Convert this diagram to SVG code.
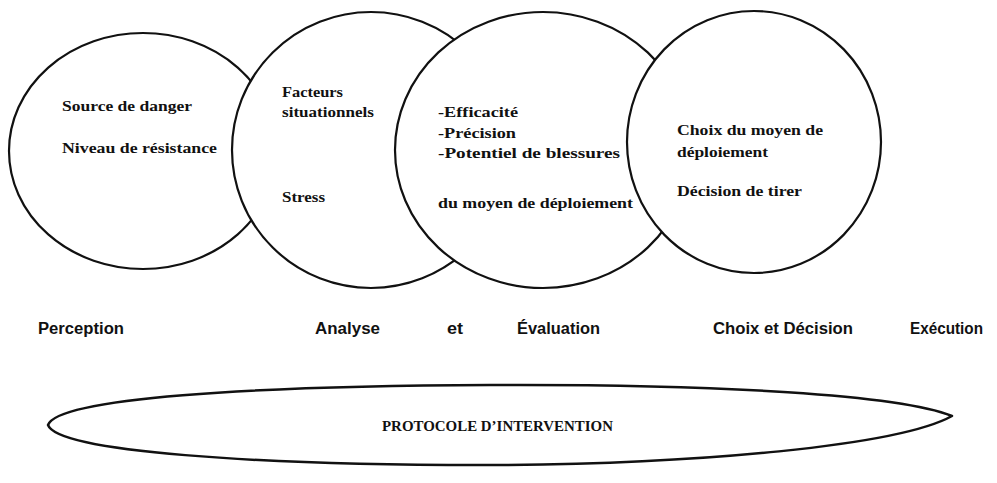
<svg xmlns="http://www.w3.org/2000/svg" width="997" height="483" viewBox="0 0 997 483">
<style>
.c{fill:#fff;stroke:#111;stroke-width:2.2}
.t{font-family:"Liberation Serif","Times New Roman",serif;font-weight:bold;font-size:15.5px;fill:#111}
.s{font-family:"Liberation Sans",Arial,sans-serif;font-weight:bold;font-size:16px;fill:#111}
.p{font-family:"Liberation Serif","Times New Roman",serif;font-size:15px;fill:#111;font-weight:bold}
</style>
<rect width="997" height="483" fill="#fff"/>
<g id="connectors"/>
<g id="perception">
<ellipse class="c" cx="143" cy="151" rx="134" ry="118"/>
<text class="t" x="62" y="111" textLength="130" lengthAdjust="spacingAndGlyphs">Source de danger</text>
<text class="t" x="62" y="153" textLength="155" lengthAdjust="spacingAndGlyphs">Niveau de résistance</text>
</g>
<g id="analyse">
<ellipse class="c" cx="371" cy="150" rx="139" ry="138"/>
<text class="t" x="282" y="97" textLength="61" lengthAdjust="spacingAndGlyphs">Facteurs</text>
<text class="t" x="282" y="117" textLength="92" lengthAdjust="spacingAndGlyphs">situationnels</text>
<text class="t" x="282" y="202" textLength="43" lengthAdjust="spacingAndGlyphs">Stress</text>
</g>
<g id="evaluation">
<ellipse class="c" cx="543" cy="150" rx="148" ry="138"/>
<text class="t" x="438" y="117" textLength="80" lengthAdjust="spacingAndGlyphs">-Efficacité</text>
<text class="t" x="438" y="138" textLength="78" lengthAdjust="spacingAndGlyphs">-Précision</text>
<text class="t" x="438" y="158" textLength="182" lengthAdjust="spacingAndGlyphs">-Potentiel de blessures</text>
<text class="t" x="438" y="208" textLength="195" lengthAdjust="spacingAndGlyphs">du moyen de déploiement</text>
</g>
<g id="decision">
<ellipse class="c" cx="754" cy="142" rx="127" ry="131"/>
<text class="t" x="677" y="135" textLength="146" lengthAdjust="spacingAndGlyphs">Choix du moyen de</text>
<text class="t" x="677" y="157" textLength="91" lengthAdjust="spacingAndGlyphs">déploiement</text>
<text class="t" x="677" y="196" textLength="125" lengthAdjust="spacingAndGlyphs">Décision de tirer</text>
</g>
<g id="stages">
<text class="s" x="38" y="334" textLength="86" lengthAdjust="spacingAndGlyphs">Perception</text>
<text class="s" x="315" y="334" textLength="65" lengthAdjust="spacingAndGlyphs">Analyse</text>
<text class="s" x="447" y="334" textLength="16" lengthAdjust="spacingAndGlyphs">et</text>
<text class="s" x="517" y="334" textLength="83" lengthAdjust="spacingAndGlyphs">Évaluation</text>
<text class="s" x="713" y="334" textLength="140" lengthAdjust="spacingAndGlyphs">Choix et Décision</text>
<text class="s" x="910" y="334" textLength="73" lengthAdjust="spacingAndGlyphs">Exécution</text>
</g>
<g id="protocole">
<path d="M48,425 C58,398 250,386 490,385 C720,384 900,395 952,416 C900,445 700,465 480,465 C260,465 58,452 48,425 Z" fill="#fff" stroke="#111" stroke-width="2.5" stroke-linejoin="round"/>
<text class="p" x="382" y="431" textLength="231" lengthAdjust="spacingAndGlyphs">PROTOCOLE D’INTERVENTION</text>
</g>
</svg>
